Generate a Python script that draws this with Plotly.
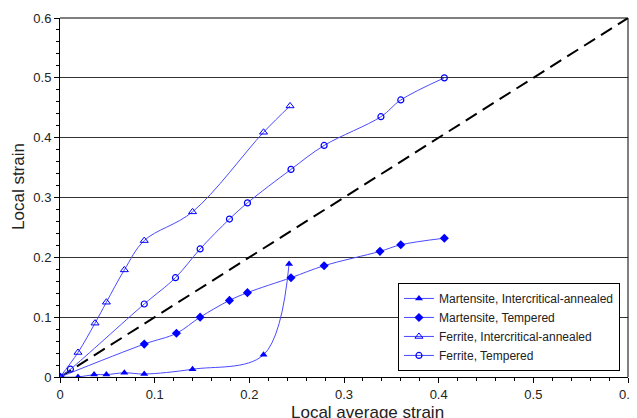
import plotly.graph_objects as go

# Data
mart_ia_x = [0, 0.019, 0.036, 0.049, 0.068, 0.089, 0.140, 0.215, 0.242]
mart_ia_y = [0, 0.0, 0.004, 0.004, 0.007, 0.005, 0.013, 0.037, 0.189]

mart_t_x = [0, 0.089, 0.123, 0.148, 0.179, 0.198, 0.244, 0.279, 0.338, 0.360, 0.406]
mart_t_y = [0, 0.055, 0.073, 0.100, 0.128, 0.141, 0.166, 0.186, 0.210, 0.221, 0.232]

fer_ia_x = [0, 0.019, 0.037, 0.049, 0.068, 0.089, 0.140, 0.215, 0.243]
fer_ia_y = [0, 0.041, 0.090, 0.125, 0.179, 0.228, 0.276, 0.409, 0.453]

fer_t_x = [0, 0.011, 0.089, 0.122, 0.148, 0.179, 0.198, 0.244, 0.279, 0.339, 0.360, 0.406]
fer_t_y = [0, 0.013, 0.122, 0.166, 0.214, 0.264, 0.291, 0.347, 0.387, 0.435, 0.463, 0.500]

diag_x = [0, 0.6]
diag_y = [0, 0.6]

tick_vals = [0, 0.1, 0.2, 0.3, 0.4, 0.5, 0.6]
tick_text = ["0", "0.1", "0.2", "0.3", "0.4", "0.5", "0.6"]

x_title = "Local average strain"
y_title = "Local strain"

line_col = "#4a4aff"
mk_col = "#0000ff"
font_family = "Liberation Sans, Arial, sans-serif"

fig = go.Figure()
fig.add_trace(go.Scatter(x=diag_x, y=diag_y, mode="lines",
                         line=dict(color="black", width=2, dash="13px,7px"),
                         showlegend=False, hoverinfo="skip"))
fig.add_trace(go.Scatter(x=mart_ia_x, y=mart_ia_y, mode="lines+markers",
                         name="Martensite, Intercritical-annealed",
                         line=dict(color=line_col, width=1, shape="spline", smoothing=1),
                         marker=dict(symbol="triangle-up", size=7, color=mk_col)))
fig.add_trace(go.Scatter(x=mart_t_x, y=mart_t_y, mode="lines+markers",
                         name="Martensite, Tempered",
                         line=dict(color=line_col, width=1, shape="spline", smoothing=1),
                         marker=dict(symbol="diamond", size=7, color=mk_col)))
fig.add_trace(go.Scatter(x=fer_ia_x, y=fer_ia_y, mode="lines+markers",
                         name="Ferrite, Intercritical-annealed",
                         line=dict(color=line_col, width=1, shape="spline", smoothing=1),
                         marker=dict(symbol="triangle-up-open", size=7, color=mk_col,
                                     line=dict(width=1))))
fig.add_trace(go.Scatter(x=fer_t_x, y=fer_t_y, mode="lines+markers",
                         name="Ferrite, Tempered",
                         line=dict(color=line_col, width=1, shape="spline", smoothing=1),
                         marker=dict(symbol="circle-open", size=6, color=mk_col,
                                     line=dict(width=1.2))))

fig.update_layout(
    width=629, height=410,
    margin=dict(l=52, r=9, t=10, b=41),
    paper_bgcolor="white", plot_bgcolor="white",
    font=dict(family=font_family, size=13, color="#222"),
    legend=dict(x=0.595, y=0.262, xanchor="left", yanchor="top",
                bordercolor="black", borderwidth=1, bgcolor="white",
                font=dict(size=12, color="#222"), tracegroupgap=0,
                itemwidth=30),
    xaxis=dict(range=[0, 0.6], tickvals=tick_vals, ticktext=tick_text,
               automargin=False, ticklabeloverflow="allow",
               showgrid=False, zeroline=False,
               showline=True, linecolor="black", linewidth=1, mirror=False,
               ticks="outside", ticklen=5, tickcolor="black",
               minor=dict(dtick=0.02, ticks="outside", ticklen=3, tickcolor="black")),
    yaxis=dict(range=[0, 0.6], tickvals=tick_vals, ticktext=tick_text,
               automargin=False, ticklabeloverflow="allow",
               showgrid=True, gridcolor="#333", gridwidth=1, zeroline=False,
               showline=True, linecolor="black", linewidth=1,
               ticks="outside", ticklen=5, tickcolor="black",
               minor=dict(dtick=0.02, ticks="outside", ticklen=3, tickcolor="black", showgrid=False)),
    annotations=[
        dict(text=x_title, xref="paper", yref="paper", x=0.541, y=-0.098,
             xanchor="center", yanchor="middle", showarrow=False,
             font=dict(size=17, color="#222")),
        dict(text=y_title, xref="paper", yref="paper", x=-0.074, y=0.532,
             xanchor="center", yanchor="middle", showarrow=False, textangle=-90,
             font=dict(size=17, color="#222")),
    ],
    shapes=[dict(type="line", xref="paper", yref="paper", x0=1, x1=1, y0=0, y1=1,
                 line=dict(color="black", width=1)),
            dict(type="line", xref="paper", yref="paper", x0=0, x1=1, y0=1, y1=1,
                 line=dict(color="black", width=1))],
)

fig.write_html("out.html")
